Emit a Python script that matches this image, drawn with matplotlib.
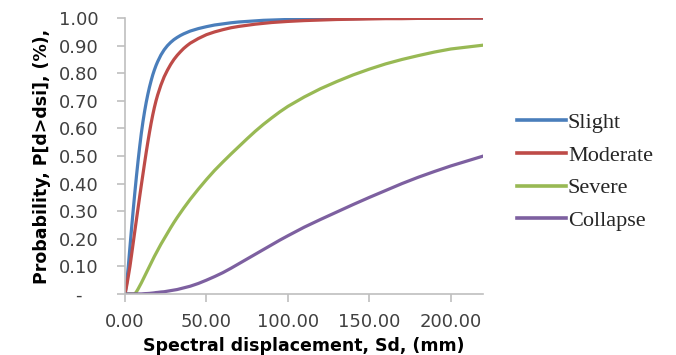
import numpy as np
import matplotlib
matplotlib.use("Agg")
import matplotlib.pyplot as plt
import matplotlib.transforms as mtransforms

# values
sd = [0, 1, 2, 3, 4, 5, 6, 7, 8, 9, 10, 11, 12, 13, 14, 15, 16, 17, 18, 19, 20,
      22, 24, 26, 28, 30, 32, 34, 36, 38, 40,
      45, 50, 55, 60, 65, 70, 75, 80, 85, 90, 95, 100,
      110, 120, 130, 140, 150, 160, 170, 180, 190, 200, 210, 220]

slight = [0, 0.04, 0.10, 0.17, 0.238, 0.304, 0.367, 0.427, 0.483, 0.535, 0.583,
          0.625, 0.662, 0.695, 0.724, 0.75, 0.773, 0.794, 0.812, 0.828, 0.842,
          0.866, 0.885, 0.90, 0.912, 0.922, 0.93, 0.937, 0.943, 0.948, 0.953,
          0.962, 0.969, 0.975, 0.979, 0.983, 0.986, 0.988, 0.99, 0.992, 0.993, 0.994, 0.995,
          0.996, 0.997, 0.998, 0.998, 0.999, 0.999, 0.999, 1.0, 1.0, 1.0, 1.0, 1.0]

moderate = [0, 0.03, 0.064, 0.10, 0.142, 0.185, 0.228, 0.27, 0.312, 0.354, 0.395,
            0.435, 0.475, 0.514, 0.551, 0.586, 0.619, 0.649, 0.676, 0.70, 0.721,
            0.757, 0.787, 0.811, 0.832, 0.85, 0.865, 0.878, 0.89, 0.90, 0.909,
            0.926, 0.94, 0.95, 0.958, 0.965, 0.97, 0.974, 0.978, 0.981, 0.984, 0.986, 0.988,
            0.991, 0.993, 0.995, 0.996, 0.997, 0.998, 0.998, 0.999, 0.999, 0.999, 1.0, 1.0]

severe = [0, 0, 0, 0, 0, 0, 0, 0.008, 0.018, 0.029, 0.04,
          0.052, 0.064, 0.076, 0.088, 0.10, 0.112, 0.124, 0.136, 0.147, 0.158,
          0.18, 0.20, 0.22, 0.24, 0.259, 0.277, 0.294, 0.311, 0.327, 0.343,
          0.38, 0.415, 0.448, 0.478, 0.507, 0.535, 0.563, 0.59, 0.615, 0.638, 0.66, 0.68,
          0.714, 0.744, 0.77, 0.794, 0.815, 0.834, 0.85, 0.864, 0.877, 0.888, 0.895, 0.902]

collapse = [0, 0, 0, 0, 0, 0, 0, 0, 0, 0, 0,
            0.0005, 0.001, 0.0013, 0.0016, 0.002, 0.0027, 0.0033, 0.004, 0.005, 0.0055,
            0.007, 0.008, 0.01, 0.012, 0.014, 0.016, 0.019, 0.022, 0.025, 0.028,
            0.038, 0.05, 0.063, 0.077, 0.093, 0.11, 0.127, 0.144, 0.161, 0.178, 0.195, 0.211,
            0.242, 0.27, 0.297, 0.324, 0.35, 0.375, 0.40, 0.423, 0.444, 0.464, 0.482, 0.50]

names = ['Slight', 'Moderate', 'Severe', 'Collapse']
colors = ['#4A7EBB', '#BE4B48', '#98B954', '#7D60A0']

yticks = [0, 0.1, 0.2, 0.3, 0.4, 0.5, 0.6, 0.7, 0.8, 0.9, 1.0]
ytick_labels = ['-'] + ['%.2f' % v for v in yticks[1:]]
xticks = [0, 50, 100, 150, 200]
xtick_labels = ['%.2f' % v for v in xticks]

fig = plt.figure(figsize=(6.76, 3.55), dpi=100)
ax = fig.add_axes([0.185, 0.172, 0.53, 0.777])

for y, name, c in zip([slight, moderate, severe, collapse], names, colors):
    ax.plot(sd, y, color=c, lw=2.3, label=name, solid_joinstyle='round')

ax.set_xlim(0, 220)
ax.set_ylim(0, 1.0)
ax.set_xticks(xticks)
ax.set_xticklabels(xtick_labels)
ax.set_yticks(yticks)
ax.set_yticklabels(ytick_labels)

for s in ['top', 'right']:
    ax.spines[s].set_visible(False)
for s in ['left', 'bottom']:
    ax.spines[s].set_color('#BFBFBF')
    ax.spines[s].set_linewidth(1.2)
ax.tick_params(axis='both', colors='#BFBFBF', length=6, width=1.2, labelsize=13,
               labelcolor='#404040')
ax.tick_params(axis='y', pad=13)
ax.tick_params(axis='x', pad=8)

# excel style dash for zero sits further left
dash = ax.get_yticklabels()[0]
dash.set_transform(dash.get_transform() +
                   mtransforms.ScaledTranslation(-0.17, 0, fig.dpi_scale_trans))

ax.set_xlabel('Spectral displacement, Sd, (mm)', fontsize=12.5, fontweight='bold',
              labelpad=4)
ax.set_ylabel('Probability, P[d>dsi], (%),', fontsize=12.5, fontweight='bold',
              labelpad=6)

leg = fig.legend(loc='upper left', bbox_to_anchor=(0.735, 0.74), frameon=False,
                 prop={'family': 'Liberation Serif', 'size': 16},
                 handlelength=2.2, handletextpad=0.1, labelspacing=0.55)
for line in leg.get_lines():
    line.set_linewidth(2.6)
for t in leg.get_texts():
    t.set_color('#262626')

fig.savefig('out.png', dpi=100)
